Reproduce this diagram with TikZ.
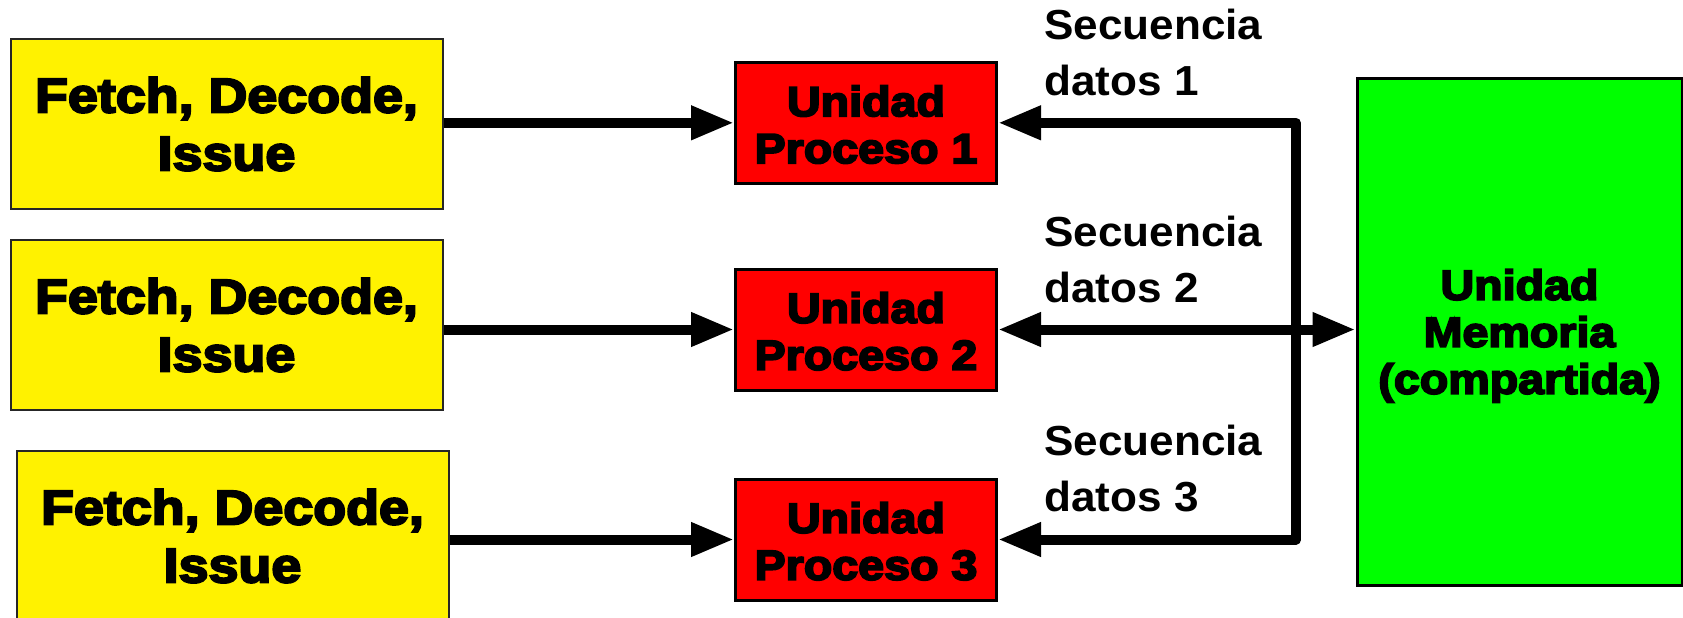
\documentclass[tikz,border=0pt]{standalone}
\usepackage{fontspec}
\usetikzlibrary{arrows.meta}
\setmainfont{Liberation Sans}
% heavy face for the boxes, plain bold for the stream labels
\newfontfamily\heavyfont[FakeStretch=1.11,BoldFeatures={FakeBold=4.5}]{Liberation Sans}
\newfontfamily\labelfont[FakeStretch=1.05]{Liberation Sans}

\tikzset{
  fdibox/.style={draw=black!85, line width=2pt, fill=yellow,
    minimum width=432pt, minimum height=170pt, inner sep=0pt, align=center,
    font=\heavyfont\bfseries\fontsize{48.5}{58}\selectfont},
  pubox/.style={draw=black, line width=3pt, fill=red,
    minimum width=261pt, minimum height=121pt, inner sep=0pt, align=center,
    text height=81pt,
    font=\heavyfont\bfseries\fontsize{42}{47}\selectfont},
  membox/.style={draw=black, line width=3pt, fill=green,
    minimum width=325pt, minimum height=507pt, inner sep=0pt, align=center,
    text depth=0pt,
    font=\heavyfont\bfseries\fontsize{42}{47}\selectfont},
  seqlabel/.style={inner sep=0pt, align=left, anchor=south west,
    font=\labelfont\bfseries\fontsize{42}{56}\selectfont},
  link/.style={line width=10pt, line join=round,
    -{Triangle[length=43pt,width=32pt]}},
  duallink/.style={line width=10pt, line join=round,
    {Triangle[length=43pt,width=32pt]}-{Triangle[length=43pt,width=32pt]}},
}

\begin{document}
\begin{tikzpicture}[x=1pt,y=-1pt]
\useasboundingbox (0,0) rectangle (1683,618);

% instruction front ends
\node[fdibox] (f1) at (226.5,124) {Fetch, Decode,\\Issue};
\node[fdibox] (f2) at (226.5,325) {Fetch, Decode,\\Issue};
\node[fdibox] (f3) at (232.5,536) {Fetch, Decode,\\Issue};

% processing units
\node[pubox] (p1) at (866,122.8) {Unidad\\Proceso 1};
\node[pubox] (p2) at (866,329.5) {Unidad\\Proceso 2};
\node[pubox] (p3) at (866,539.5) {Unidad\\Proceso 3};

% shared memory
\node[membox] (mem) at (1519.5,331.5) {Unidad\\Memoria\\(compartida)};

% data stream labels
\node[seqlabel] (s1) at (1044,96.5) {Secuencia\\datos 1};
\node[seqlabel] (s2) at (1044,303.3) {Secuencia\\datos 2};
\node[seqlabel] (s3) at (1044,512) {Secuencia\\datos 3};

% instruction streams
\draw[link] (f1.east |- p1.west) -- (p1.west);
\draw[link] (f2.east |- p2.west) -- (p2.west);
\draw[link] (f3.east |- p3.west) -- (p3.west);

% data bus
\coordinate (bus) at (1296,0);
\draw[duallink] (p1.east) -- (p1.east -| bus) -- (p3.east -| bus) -- (p3.east);
\draw[duallink] (p2.east) -- (p2.east -| mem.west);
\end{tikzpicture}
\end{document}
